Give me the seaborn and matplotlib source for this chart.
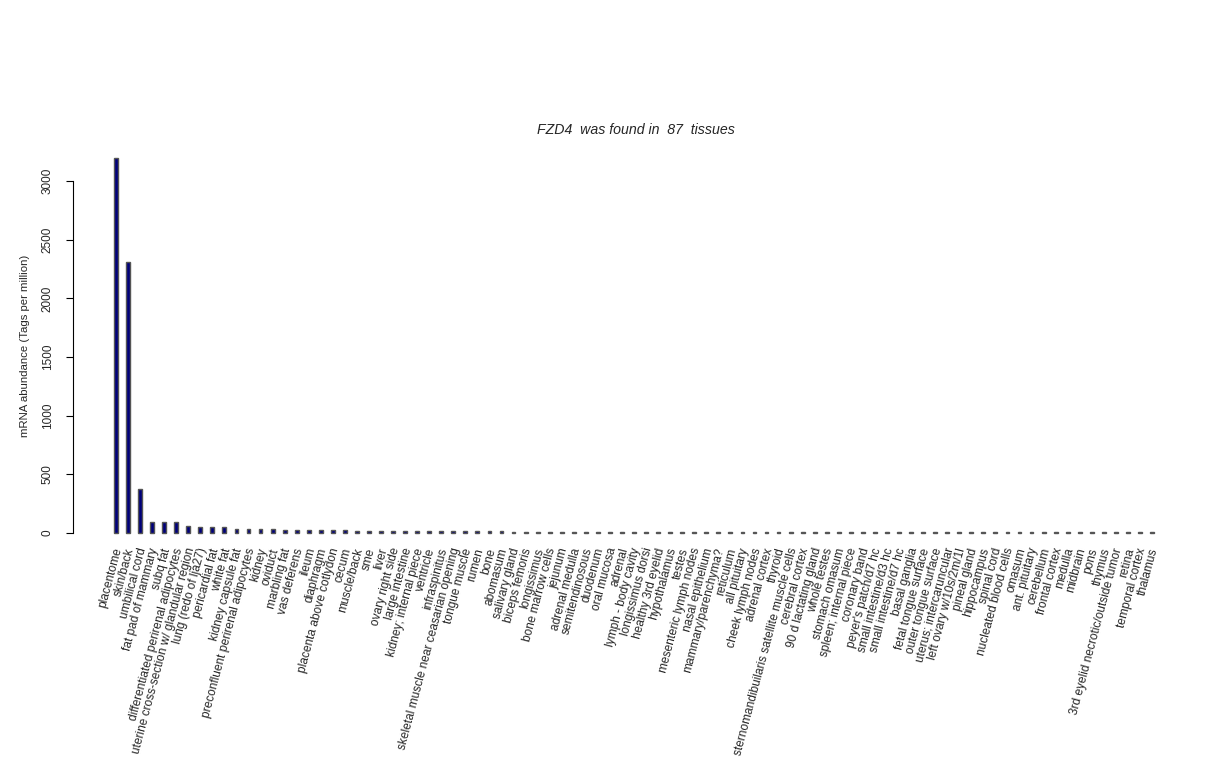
import matplotlib
matplotlib.use("Agg")
import matplotlib.pyplot as plt
import matplotlib.transforms as mtransforms
import seaborn as sns
import pandas as pd

tissues = [
    "placentome", "skin/back", "umbilical cord", "fat pad of mammary", "subq fat",
    "differentiated perirenal adipocytes", "uterine cross-section w/ glandular region",
    "lung (redo of lja27)", "pericardial fat", "white fat", "kidney capsule fat",
    "preconfluent perirenal adipocytes", "kidney", "oviduct", "marbling fat",
    "vas deferens", "ileum", "diaphragm", "placenta above cotlydon", "cecum",
    "muscle/back", "sme", "liver", "ovary right side", "large intestine",
    "kidney; internal piece", "ventricle", "infraspinitus",
    "skeletal muscle near ceasarian opening", "tongue muscle", "rumen", "bone",
    "abomasum", "salivary gland", "biceps femoris", "longissimus",
    "bone marrow cells", "jejunum", "adrenal medulla", "semitendinosous",
    "duodenum", "oral mucosa", "adrenal", "lymph - body cavity",
    "longissimus dorsi", "healthy 3rd eyelid", "hypothalamus", "testes",
    "mesenteric lymph nodes", "nasal epithelium", "mammary/parenchyma?",
    "reticulum", "all pituitary", "cheek lymph nodes", "adrenal cortex", "thyroid",
    "sternomandibuilaris satellite muscle cells", "cerebral cortex",
    "90 d lactating gland", "whole testes", "stomach omasum",
    "spleen; internal piece", "coronary band", "peyer's patch/d7 hc",
    "small intestine/d3 hc", "small intestine/d7 hc", "basal ganglia",
    "fetal tongue surface", "outer tongue surface", "uterus; intercaruncular",
    "left ovary w/10s/2m/1l", "pineal gland", "hippocampus", "spinal cord",
    "nucleated blood cells", "omasum", "ant. pituitary", "cerebellum",
    "frontal cortex", "medulla", "midbrain", "pons", "thymus",
    "3rd eyelid necrotic/outside tumor", "retina", "temporal cortex", "thalamus",
]

abundance = [
    3200, 2310, 375, 97, 95, 93, 60, 52, 50, 48,
    38, 36, 33, 30, 28, 27, 25, 24, 23, 22,
    21, 20, 19, 18, 17, 16.5, 16, 15.5, 15, 14.5,
    14, 13.5, 13, 12.5, 12, 11.8, 11.5, 11.2, 11, 10.7,
    10.4, 10.1, 9.8, 9.5, 9.2, 9, 8.8, 8.6, 8.4, 8.2,
    8, 7.9, 7.8, 7.7, 7.6, 7.5, 7.4, 7.3, 7.2, 7.1,
    7, 6.9, 6.8, 6.7, 6.6, 6.5, 6.4, 6.3, 6.2, 6.1,
    6, 5.9, 5.8, 5.7, 5.6, 5.5, 5.4, 5.3, 5.2, 5.1,
    5, 4.9, 4.8, 4.7, 4.6, 4.5, 4.4,
]

gene = "FZD4"
yticks = [0, 500, 1000, 1500, 2000, 2500, 3000]

df = pd.DataFrame({"tissue": tissues, "abundance": abundance})

sns.set_theme(style="white")
plt.rcParams["font.family"] = ["Liberation Sans", "DejaVu Sans"]

W, H = 1224, 768
fig = plt.figure(figsize=(W / 100, H / 100), dpi=100)
left_px, right_px, top_px, bottom_px = 73, 1199, 143, 548
ax = fig.add_axes([left_px / W, (H - bottom_px) / H,
                   (right_px - left_px) / W, (bottom_px - top_px) / H])

sns.barplot(data=df, x="tissue", y="abundance", color="#00007a",
            width=0.32, edgecolor="#555555", linewidth=1.0,
            saturation=1, ax=ax)

ax.set_xlim(-3.57, 89.9)
ax.set_ylim(-128, 3324)

for s in ["top", "right", "bottom"]:
    ax.spines[s].set_visible(False)
ax.spines["left"].set_bounds(0, 3000)
ax.spines["left"].set_color("black")
ax.spines["left"].set_linewidth(0.8)

ax.set_yticks(yticks)
ax.set_yticklabels([str(v) for v in yticks], rotation=90, va="center", fontsize=8.5)
ax.tick_params(axis="y", left=True, length=5, width=0.8, pad=9, color="black")
ax.tick_params(axis="x", bottom=False, length=0, pad=-1)
ax.set_xticks(range(len(tissues)))
ax.set_xticklabels(tissues, rotation=75, ha="right", va="top",
                   rotation_mode="anchor", fontsize=8.6)
shift = mtransforms.ScaledTranslation(-3 / 100, 0, fig.dpi_scale_trans)
for lbl in ax.get_xticklabels():
    lbl.set_transform(lbl.get_transform() + shift)

ax.set_xlabel("")
ax.set_ylabel("mRNA abundance (Tags per million)", fontsize=8.2, labelpad=8)
ax.grid(False)

fig.text(((left_px + right_px) / 2) / W, (H - 130) / H,
         f"{gene}  was found in  {len(tissues)}  tissues",
         ha="center", va="center", fontsize=10.2, style="italic")

fig.savefig("out.png", dpi=100, facecolor="white")
